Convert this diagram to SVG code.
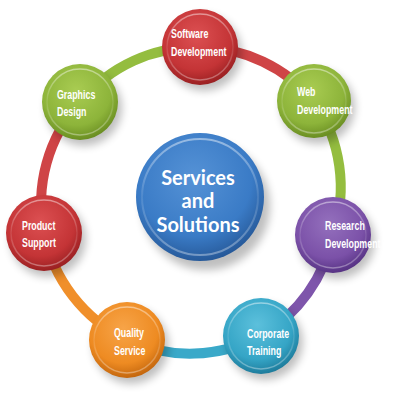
<svg xmlns="http://www.w3.org/2000/svg" width="400" height="400" viewBox="0 0 400 400">
<defs>
<style>
.lbl{font-family:"Liberation Sans",Arial,sans-serif;font-weight:bold;font-size:13px;fill:#fff}
.ctr{font-family:Lato,"Liberation Sans",sans-serif;font-weight:bold;font-size:20px;fill:#fff;text-anchor:middle}
.seg{fill:none;stroke-width:10;stroke-linecap:butt}
</style>
<filter id="sh" x="-50%" y="-50%" width="200%" height="200%"><feGaussianBlur stdDeviation="4"/></filter>
<radialGradient id="gRed" cx="45%" cy="35%" r="65%"><stop offset="0" stop-color="#dc5052"/><stop offset="0.7" stop-color="#c43436"/><stop offset="1" stop-color="#9a2022"/></radialGradient>
<radialGradient id="gGreen" cx="45%" cy="35%" r="65%"><stop offset="0" stop-color="#a9cc52"/><stop offset="0.7" stop-color="#8db43a"/><stop offset="1" stop-color="#6a8e22"/></radialGradient>
<radialGradient id="gPurple" cx="45%" cy="35%" r="65%"><stop offset="0" stop-color="#9470bd"/><stop offset="0.7" stop-color="#7b51a8"/><stop offset="1" stop-color="#573384"/></radialGradient>
<radialGradient id="gCyan" cx="45%" cy="35%" r="65%"><stop offset="0" stop-color="#5cc0dc"/><stop offset="0.7" stop-color="#35a5c6"/><stop offset="1" stop-color="#1e7c9c"/></radialGradient>
<radialGradient id="gOrange" cx="45%" cy="35%" r="65%"><stop offset="0" stop-color="#f7a448"/><stop offset="0.7" stop-color="#ee8b22"/><stop offset="1" stop-color="#c4670e"/></radialGradient>
<radialGradient id="gBlue" cx="45%" cy="35%" r="65%"><stop offset="0" stop-color="#5592d6"/><stop offset="0.7" stop-color="#3a7bc6"/><stop offset="1" stop-color="#275a9a"/></radialGradient>
<linearGradient id="rim" x1="0" y1="0" x2="0" y2="1"><stop offset="0" stop-color="#fff" stop-opacity="0.45"/><stop offset="0.5" stop-color="#fff" stop-opacity="0.1"/><stop offset="1" stop-color="#fff" stop-opacity="0.35"/></linearGradient>
</defs>

<g id="connectors">
<path class="seg" stroke="#cf4446" d="M200,47 A152,152 0 0 1 314,101"/>
<path class="seg" stroke="#94bd3f" d="M314,101 A152,152 0 0 1 333,235"/>
<path class="seg" stroke="#7e55ab" d="M333,235 A152,152 0 0 1 261,336"/>
<path class="seg" stroke="#3aa9c9" d="M261,336 A152,152 0 0 1 127,340"/>
<path class="seg" stroke="#f08f2a" d="M127,340 A152,152 0 0 1 44,233"/>
<path class="seg" stroke="#cf4446" d="M44,233 A152,152 0 0 1 80,102"/>
<path class="seg" stroke="#94bd3f" d="M80,102 A152,152 0 0 1 200,47"/>
</g>

<g id="center">
<ellipse cx="206" cy="206" rx="64" ry="64" fill="#000" opacity="0.25" filter="url(#sh)"/>
<circle cx="200" cy="197" r="64" fill="url(#gBlue)"/>
<circle cx="200" cy="197" r="58" fill="none" stroke="url(#rim)" stroke-width="2"/>
<text class="ctr" x="198" y="185">Services</text>
<text class="ctr" x="198" y="208">and</text>
<text class="ctr" x="198" y="232">Solutions</text>
</g>

<g id="software">
<ellipse cx="204" cy="53" rx="38" ry="38" fill="#000" opacity="0.25" filter="url(#sh)"/>
<circle cx="200" cy="47" r="38" fill="url(#gRed)"/>
<circle cx="200" cy="47" r="33" fill="none" stroke="url(#rim)" stroke-width="1.5"/>
<g transform="matrix(0.68,0,0,1,171,0)"><text class="lbl" x="0" y="38">Software</text><text class="lbl" x="0" y="56">Development</text></g>
</g>

<g id="web">
<ellipse cx="318" cy="107" rx="37" ry="37" fill="#000" opacity="0.25" filter="url(#sh)"/>
<circle cx="314" cy="101" r="37" fill="url(#gGreen)"/>
<circle cx="314" cy="101" r="32" fill="none" stroke="url(#rim)" stroke-width="1.5"/>
<g transform="matrix(0.68,0,0,1,297,0)"><text class="lbl" x="0" y="96">Web</text><text class="lbl" x="0" y="114">Development</text></g>
</g>

<g id="research">
<ellipse cx="337" cy="241" rx="38" ry="38" fill="#000" opacity="0.25" filter="url(#sh)"/>
<circle cx="333" cy="235" r="38" fill="url(#gPurple)"/>
<circle cx="333" cy="235" r="33" fill="none" stroke="url(#rim)" stroke-width="1.5"/>
<g transform="matrix(0.68,0,0,1,325,0)"><text class="lbl" x="0" y="230">Research</text><text class="lbl" x="0" y="248">Development</text></g>
</g>

<g id="corporate">
<ellipse cx="265" cy="342" rx="38" ry="38" fill="#000" opacity="0.25" filter="url(#sh)"/>
<circle cx="261" cy="336" r="38" fill="url(#gCyan)"/>
<circle cx="261" cy="336" r="33" fill="none" stroke="url(#rim)" stroke-width="1.5"/>
<g transform="matrix(0.68,0,0,1,247,0)"><text class="lbl" x="0" y="338">Corporate</text><text class="lbl" x="0" y="355">Training</text></g>
</g>

<g id="quality">
<ellipse cx="131" cy="346" rx="38" ry="38" fill="#000" opacity="0.25" filter="url(#sh)"/>
<circle cx="127" cy="340" r="38" fill="url(#gOrange)"/>
<circle cx="127" cy="340" r="33" fill="none" stroke="url(#rim)" stroke-width="1.5"/>
<g transform="matrix(0.68,0,0,1,114,0)"><text class="lbl" x="0" y="337">Quality</text><text class="lbl" x="0" y="355">Service</text></g>
</g>

<g id="product">
<ellipse cx="48" cy="239" rx="38" ry="38" fill="#000" opacity="0.25" filter="url(#sh)"/>
<circle cx="44" cy="233" r="38" fill="url(#gRed)"/>
<circle cx="44" cy="233" r="33" fill="none" stroke="url(#rim)" stroke-width="1.5"/>
<g transform="matrix(0.68,0,0,1,22,0)"><text class="lbl" x="0" y="230">Product</text><text class="lbl" x="0" y="247">Support</text></g>
</g>

<g id="graphics">
<ellipse cx="84" cy="108" rx="38" ry="38" fill="#000" opacity="0.25" filter="url(#sh)"/>
<circle cx="80" cy="102" r="38" fill="url(#gGreen)"/>
<circle cx="80" cy="102" r="33" fill="none" stroke="url(#rim)" stroke-width="1.5"/>
<g transform="matrix(0.68,0,0,1,57,0)"><text class="lbl" x="0" y="99">Graphics</text><text class="lbl" x="0" y="116">Design</text></g>
</g>
</svg>
